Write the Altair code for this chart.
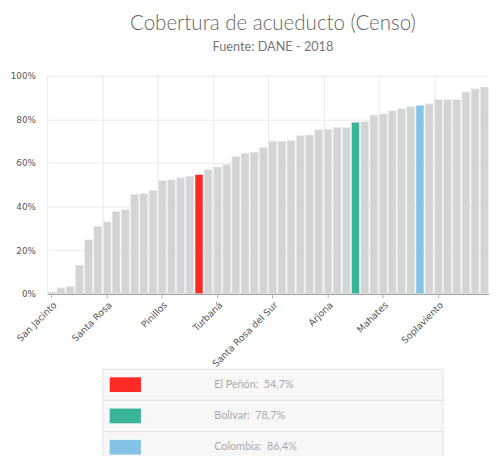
import altair as alt
import pandas as pd

municipios = [
    "San Jacinto", "Tiquisio", "Norosí", "Altos del Rosario", "Montecristo", "Barranco de Loba",
    "Santa Rosa", "Río Viejo", "Hatillo de Loba", "San Martín de Loba", "Achí", "Arenal",
    "Pinillos", "Regidor", "Cantagallo", "San Jacinto del Cauca", "El Peñón", "Margarita",
    "Turbaná", "Morales", "Simití", "El Guamo", "Talaigua Nuevo", "San Pablo",
    "Santa Rosa del Sur", "Zambrano", "Córdoba", "María La Baja", "San Fernando", "Cicuco",
    "Arjona", "Magangué", "El Carmen de Bolívar", "Bolívar", "Clemencia", "Mompós",
    "Mahates", "Santa Catalina", "San Cristóbal", "San Juan Nepomuceno", "Colombia", "Villanueva",
    "Soplaviento", "Calamar", "Arroyohondo", "San Estanislao", "Turbaco", "Cartagena",
]
cobertura = [
    0.8, 2.7, 3.4, 13.1, 24.8, 30.9,
    33.0, 37.7, 38.6, 45.6, 46.0, 47.4,
    51.9, 52.3, 53.2, 53.9, 54.7, 57.0,
    58.1, 59.2, 62.9, 64.4, 64.9, 67.1,
    70.0, 70.0, 70.3, 72.5, 72.8, 75.2,
    75.5, 76.2, 76.2, 78.7, 78.9, 81.9,
    82.5, 83.9, 84.9, 85.9, 86.4, 87.1,
    89.1, 89.1, 89.1, 92.5, 94.0, 94.8,
]
etiquetas_x = ["San Jacinto", "Santa Rosa", "Pinillos", "Turbaná",
               "Santa Rosa del Sur", "Arjona", "Mahates", "Soplaviento"]
destacados = ["El Peñón", "Bolívar", "Colombia"]
colores_destacados = ["#ff2a26", "#3ab39b", "#85c3e6"]
textos_leyenda = ["El Peñón:\u00a0 54,7%", "Bolívar:\u00a0 78,7%", "Colombia:\u00a0 86,4%"]
marcas_y = [0, 20, 40, 60, 80, 100]

df = pd.DataFrame({"municipio": municipios, "cobertura": cobertura})
df["grupo"] = [m if m in destacados else "Otro" for m in municipios]

x_scale = alt.Scale(domain=municipios, paddingInner=0.13, paddingOuter=0.07)

grid = alt.Chart(df).mark_rect(opacity=0).encode(
    x=alt.X("municipio:N", sort=municipios, scale=x_scale,
            axis=alt.Axis(values=etiquetas_x, orient="top", bandPosition=0, grid=True,
                          gridColor="#e9e9e9", labels=False, ticks=False, domain=False,
                          title=None)),
)

bars = alt.Chart(df).mark_bar(stroke="#e8eff3", strokeWidth=0.6).encode(
    x=alt.X("municipio:N", sort=municipios, scale=x_scale,
            axis=alt.Axis(values=etiquetas_x, orient="bottom", labelAngle=-45, grid=False,
                          domainColor="#9c9c9c", domainWidth=1.5, tickColor="#aaaaaa",
                          tickSize=4, labelFont="DejaVu Sans", labelFontSize=9.5,
                          labelColor="#555555", labelPadding=2, title=None)),
    y=alt.Y("cobertura:Q", scale=alt.Scale(domain=[0, 100], nice=False),
            axis=alt.Axis(values=marcas_y, labelExpr="datum.value + '%'", grid=True,
                          gridColor="#e9e9e9", domain=False, ticks=False,
                          labelFont="DejaVu Sans", labelFontSize=9, labelColor="#555555",
                          labelPadding=12, title=None)),
    color=alt.Color("grupo:N", scale=alt.Scale(domain=["Otro"] + destacados,
                                               range=["#d4d4d4"] + colores_destacados),
                    legend=None),
)

main = alt.layer(grid, bars).resolve_axis(x="independent").properties(
    width=452, height=223,
    title=alt.TitleParams(
        "Cobertura de acueducto (Censo)", subtitle="Fuente: DANE - 2018",
        font="Lato", fontSize=21, fontWeight=300, color="#666666",
        subtitleFont="Lato", subtitleFontSize=13, subtitleColor="#777777",
        subtitlePadding=8, anchor="middle", offset=18, dx=5,
    ),
)

leg = pd.DataFrame({"etiqueta": textos_leyenda, "color": colores_destacados})
ly = alt.Y("etiqueta:N", sort=textos_leyenda,
           scale=alt.Scale(paddingInner=0, paddingOuter=0), axis=None)
rows = alt.Chart(leg).mark_rect(fill="#f7f7f7", stroke="#e3e3e3", strokeWidth=1).encode(
    y=ly, x=alt.value(57), x2=alt.value(405))
swatches = alt.Chart(leg).mark_point(
    shape="M-1,-0.47H1V0.47H-1Z", size=1024, filled=True, opacity=1, strokeWidth=0
).encode(y=ly, x=alt.value(80), color=alt.Color("color:N", scale=None, legend=None))
texts = alt.Chart(leg).mark_text(align="left", font="Lato", fontSize=11,
                                 color="#aaaaaa").encode(
    y=ly, x=alt.value(171), text="etiqueta:N")
legend = alt.layer(rows, swatches, texts).properties(width=452, height=96)

chart = alt.vconcat(main, legend, spacing=-3).configure_view(stroke=None).properties(
    padding={"left": 2, "top": 0, "right": 0, "bottom": 0})

chart.save("out.html", embed_options={"renderer": "svg", "actions": False})
